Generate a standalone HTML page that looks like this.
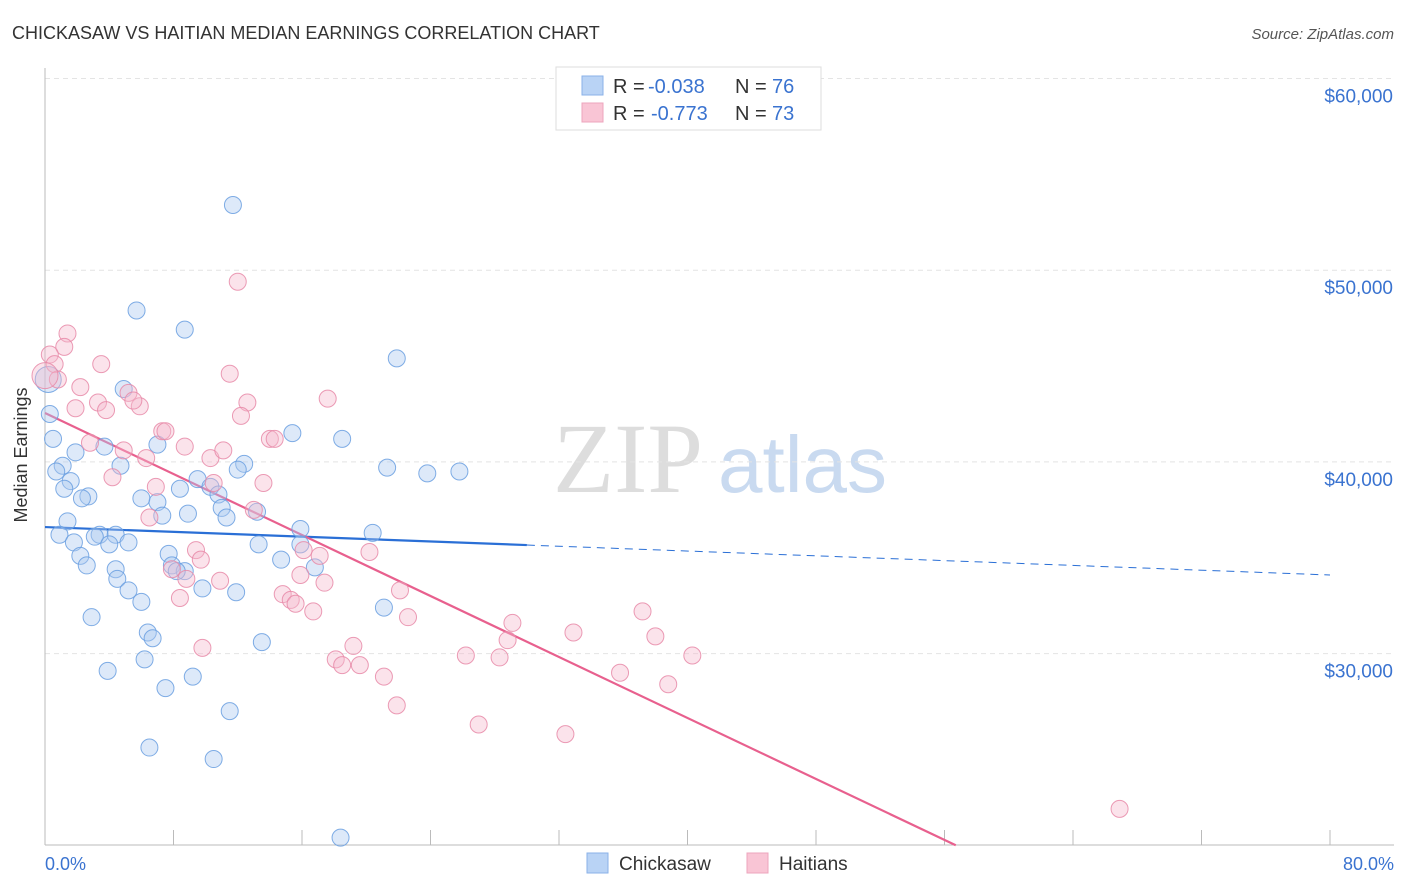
<!DOCTYPE html>
<html><head><meta charset="utf-8"><style>
body{margin:0;background:#fff;font-family:"Liberation Sans",sans-serif;}
svg{display:block}
</style></head><body>
<svg id="chart" width="1406" height="892">
<text x="12" y="39" font-size="18" fill="#333">CHICKASAW VS HAITIAN MEDIAN EARNINGS CORRELATION CHART</text>
<text x="1394" y="39" font-size="15" fill="#555" text-anchor="end" font-style="italic">Source: ZipAtlas.com</text>
<g>
<text x="553" y="492" font-size="100" fill="#ddd" font-family="Liberation Serif,serif">ZIP</text>
<text x="718" y="492" font-size="80" fill="#c9daf0">atlas</text>
</g>
<g id="grid"></g>
<g id="axes"></g>
<g id="lines"></g>
<g id="pts"></g>
<g>
<rect x="556" y="67" width="265" height="63" fill="#fff" stroke="#ddd"/>
<rect x="582" y="76" width="21" height="19" fill="#b9d3f5" stroke="#8ab2e8"/>
<rect x="582" y="103" width="21" height="19" fill="#f9c5d5" stroke="#eda5bd"/>
<text x="613" y="93" font-size="20" fill="#333">R =</text>
<text x="648" y="93" font-size="20" fill="#3a73d0">-0.038</text>
<text x="735" y="93" font-size="20" fill="#333">N =</text>
<text x="772" y="93" font-size="20" fill="#3a73d0">76</text>
<text x="613" y="120" font-size="20" fill="#333">R =</text>
<text x="651" y="120" font-size="20" fill="#3a73d0">-0.773</text>
<text x="735" y="120" font-size="20" fill="#333">N =</text>
<text x="772" y="120" font-size="20" fill="#3a73d0">73</text>
</g>
<g>
<rect x="587" y="853" width="21" height="20" fill="#b9d3f5" stroke="#8ab2e8"/>
<text x="619" y="870" font-size="19" fill="#333">Chickasaw</text>
<rect x="747" y="853" width="21" height="20" fill="#f9c5d5" stroke="#eda5bd"/>
<text x="779" y="870" font-size="19" fill="#333">Haitians</text>
</g>
<text x="27" y="455" font-size="18" fill="#333" text-anchor="middle" transform="rotate(-90 27 455)">Median Earnings</text>
<text x="45" y="870" font-size="18" fill="#3a73d0">0.0%</text>
<text x="1394" y="870" font-size="18" fill="#3a73d0" text-anchor="end">80.0%</text>
</svg>
<script>
const yTicks=[30000,40000,50000,60000];
const yTickLabels=["$30,000","$40,000","$50,000","$60,000"];
const xTicks=[0,8,16,24,32,40,48,56,64,72,80];
const blueX=[11.7,5.7,8.7,21.9,4.9,0.3,0.5,7.0,3.7,15.4,18.5,1.9,1.1,4.7,12.4,12.0,21.3,23.8,25.8,1.6,0.7,1.2,2.7,2.3,9.5,8.4,10.3,10.8,11.0,7.0,7.3,8.9,11.3,13.2,1.4,0.9,3.4,3.1,4.4,4.0,5.2,15.9,20.4,13.3,1.8,2.2,2.6,7.7,7.9,8.7,8.2,4.4,4.5,9.8,5.2,11.9,6.0,16.8,14.7,2.9,21.1,6.4,6.7,6.2,13.5,3.9,9.2,7.5,11.5,6.5,10.5,18.4,0.2,15.9,6.0];
const blueY=[53.4,47.9,46.9,45.4,43.8,42.5,41.2,40.9,40.8,41.5,41.2,40.5,39.8,39.8,39.9,39.6,39.7,39.4,39.5,39.0,39.5,38.6,38.2,38.1,39.1,38.6,38.7,38.3,37.6,37.9,37.2,37.3,37.1,37.4,36.9,36.2,36.2,36.1,36.2,35.7,35.8,36.5,36.3,35.7,35.8,35.1,34.6,35.2,34.6,34.3,34.3,34.4,33.9,33.4,33.3,33.2,32.7,34.5,34.9,31.9,32.4,31.1,30.8,29.7,30.6,29.1,28.8,28.2,27.0,25.1,24.5,20.4,44.3,35.7,38.1];
const pinkX=[12.0,1.4,1.2,0.3,0.6,3.5,0.8,2.2,11.5,5.2,3.3,3.8,5.9,5.5,12.6,17.6,1.9,12.2,7.3,2.8,7.5,8.7,14.0,14.3,4.9,10.3,11.1,6.3,4.2,6.9,10.5,13.6,13.0,6.5,9.4,8.8,7.9,9.7,17.1,16.1,20.2,10.9,15.9,17.4,8.4,14.8,15.3,15.6,22.1,16.7,22.6,9.8,19.2,18.1,18.5,19.6,21.1,26.2,28.3,29.1,28.8,32.9,37.2,38.0,40.3,35.8,38.8,21.9,27.0,32.4,66.9,0];
const pinkY=[49.4,46.7,46.0,45.6,45.1,45.1,44.3,43.9,44.6,43.6,43.1,42.7,42.9,43.2,43.1,43.3,42.8,42.4,41.6,41.0,41.6,40.8,41.2,41.2,40.6,40.2,40.6,40.2,39.2,38.7,38.9,38.9,37.5,37.1,35.4,33.9,34.4,34.9,35.1,35.4,35.3,33.8,34.1,33.7,32.9,33.1,32.8,32.6,33.3,32.2,31.9,30.3,30.4,29.7,29.4,29.4,28.8,29.9,29.8,31.6,30.7,31.1,32.2,30.9,29.9,29.0,28.4,27.3,26.3,25.8,21.9,44.5];
const blueTrend=[36.6,34.1];
const pinkTrend=[42.55,20.0,56.7];
const NS="http://www.w3.org/2000/svg";
const xs=v=>45+v/80*1285;
const ys=v=>78.5+(60-v)*19.17;
function mk(tag,attrs,parent){const e=document.createElementNS(NS,tag);for(const k in attrs)e.setAttribute(k,attrs[k]);parent.appendChild(e);return e;}
const grid=document.getElementById('grid'),axes=document.getElementById('axes');
yTicks.forEach((t,i)=>{
 const l=mk('line',{x1:45,x2:1394,y1:ys(t/1000),y2:ys(t/1000),stroke:'#e4e4e4','stroke-dasharray':'5,4'},grid);
 
 
 const tx=mk('text',{x:1393,y:ys(t/1000)+24,'font-size':19,fill:'#3a73d0','text-anchor':'end'},axes);
 tx.textContent=yTickLabels[i];
 
 
});
const ax=mk('line',{x1:45,x2:1394,y1:845,y2:845,stroke:'#bbb'},axes);


const ay=mk('line',{x1:45,x2:45,y1:68,y2:845,stroke:'#bbb'},axes);


xTicks.forEach(t=>{
 const l=mk('line',{x1:xs(t),x2:xs(t),y1:830,y2:845,stroke:'#bbb'},axes);
 
 
});
const pts=document.getElementById('pts');
function dots(X,Y,fill,stroke,name){
 X.forEach((x,i)=>{
  const big=(x<0.5&&Y[i]>44&&Y[i]<45);
  const c=mk('circle',{cx:xs(x),cy:ys(Y[i]),r:big?13:8.5,fill:fill,'fill-opacity':0.4,stroke:stroke,'stroke-width':1,'stroke-opacity':0.85},pts);
  
  
 });
}
dots(blueX,blueY,'#a9c8f0','#6a9fe0','chickasaw-point');
dots(pinkX,pinkY,'#f4b8cc','#e88aa8','haitian-point');
const lines=document.getElementById('lines');
const bAt=x=>blueTrend[0]+(blueTrend[1]-blueTrend[0])*x/80;
const b1=mk('line',{x1:xs(0),y1:ys(bAt(0)),x2:xs(30),y2:ys(bAt(30)),stroke:'#2a6fd6','stroke-width':2.2},lines);


const b2=mk('line',{x1:xs(30),y1:ys(bAt(30)),x2:xs(80),y2:ys(bAt(80)),stroke:'#2a6fd6','stroke-width':1,'stroke-dasharray':'8,6'},lines);


const p1=mk('line',{x1:xs(0),y1:ys(pinkTrend[0]),x2:xs(pinkTrend[2]),y2:ys(pinkTrend[1]),stroke:'#e8608e','stroke-width':2.2},lines);


</script>
</body></html>
